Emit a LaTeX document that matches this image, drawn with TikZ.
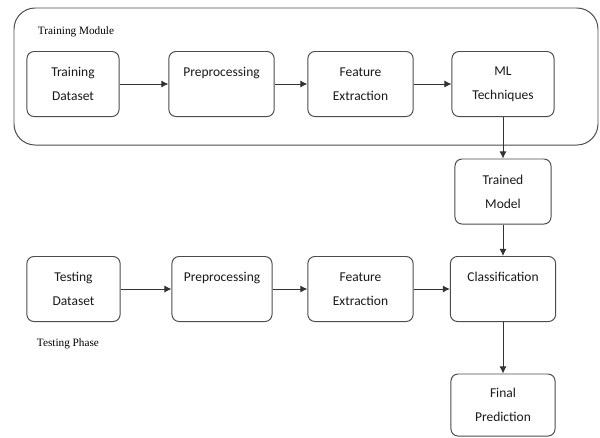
\documentclass[tikz,border=0pt]{standalone}
\usepackage{fontspec}
\setmainfont{Carlito}
\newfontfamily\labelfont{Liberation Serif}
\usetikzlibrary{arrows.meta}

\tikzset{
  stage/.style={draw=black!70, line width=0.7pt, rounded corners=5pt,
    minimum height=1.625cm, align=center, font=\fontsize{9.6}{17}\selectfont,
    text=black!90},
  flow/.style={draw=black!80, line width=0.7pt, -{Latex[length=5pt,width=5pt]}},
  phase/.style={font=\labelfont\fontsize{8}{9}\selectfont, text=black, anchor=west}
}

\begin{document}
\begin{tikzpicture}[x=0.025cm, y=-0.025cm]
    \useasboundingbox (0,0) rectangle (600,437);

    % Training module frame
    \draw[black!70, line width=0.7pt, rounded corners=15pt] (14,8) rectangle (598,145);
    \node[phase] (trainlabel) at (33,32) {Training Module};

    % Training row
    \node[stage, minimum width=2.3cm] (trainset) at (73,84) {Training\\Dataset};
    \node[stage, minimum width=2.63cm] (trainpre) at (221.5,84) {Preprocessing\\\mbox{}};
    \node[stage, minimum width=2.63cm] (trainfeat) at (360.5,84) {Feature\\Extraction};
    \node[stage, minimum width=2.55cm] (mltech) at (503,84) {ML\\Techniques};

    % Trained model
    \node[stage, minimum width=2.4cm] (model) at (503,191.5) {Trained\\Model};

    % Testing row
    \node[stage, minimum width=2.33cm] (testset) at (73.5,289) {Testing\\Dataset};
    \node[stage, minimum width=2.5cm] (testpre) at (222,289) {Preprocessing\\\mbox{}};
    \node[stage, minimum width=2.63cm] (testfeat) at (360.5,289) {Feature\\Extraction};
    \node[stage, minimum width=2.63cm] (classify) at (503,289) {Classification\\\mbox{}};
    \node[phase] (testlabel) at (32,344) {Testing Phase};

    % Final prediction
    \node[stage, minimum width=2.6cm, minimum height=1.55cm] (final) at (503,405) {Final\\Prediction};

    % Arrows
    \draw[flow] (trainset) -- (trainpre);
    \draw[flow] (trainpre) -- (trainfeat);
    \draw[flow] (trainfeat) -- (mltech);
    \draw[flow] (mltech) -- (model);
    \draw[flow] (model) -- (classify);
    \draw[flow] (testset) -- (testpre);
    \draw[flow] (testpre) -- (testfeat);
    \draw[flow] (testfeat) -- (classify);
    \draw[flow] (classify) -- (final);
\end{tikzpicture}
\end{document}
